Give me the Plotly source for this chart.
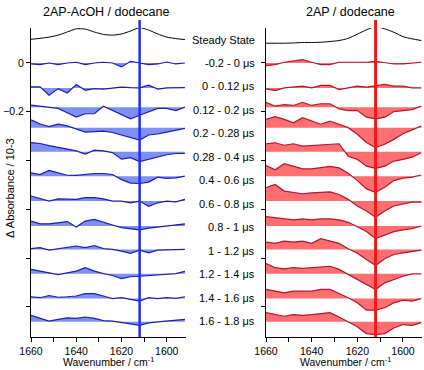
import plotly.graph_objects as go

# ---------------- data ----------------
wavenumber = [1660, 1656, 1652, 1648, 1644, 1640, 1636, 1632, 1628,
              1624, 1620, 1616, 1612, 1608, 1604, 1600, 1596, 1592]

delay_labels = ["-0.2 - 0 \u03bcs", "0 - 0.12 \u03bcs", "0.12 - 0.2 \u03bcs",
                "0.2 - 0.28 \u03bcs", "0.28 - 0.4 \u03bcs", "0.4 - 0.6 \u03bcs",
                "0.6 - 0.8 \u03bcs", "0.8 - 1 \u03bcs", "1 - 1.2 \u03bcs",
                "1.2 - 1.4 \u03bcs", "1.4 - 1.6 \u03bcs", "1.6 - 1.8 \u03bcs"]

# steady-state spectra (arbitrary scale)
acoh_steady = [0.003, 0.007, 0.012, 0.020, 0.033, 0.046, 0.045, 0.033, 0.023,
               0.020, 0.025, 0.037, 0.051, 0.041, 0.025, 0.012, 0.006, 0.002]
ap_steady = [0, 0, 0, 0.001, 0.003, 0.003, 0.004, 0.007, 0.011,
             0.020, 0.037, 0.055, 0.068, 0.059, 0.045, 0.027, 0.018, 0.011]

# transient difference spectra, 2AP-AcOH / dodecane
acoh_spectra = [
    [-0.004, -0.007, 0, -0.007, 0, 0.003, -0.007, 0, 0.003, 0, -0.016, 0.007, 0, -0.007, -0.004, 0.004, -0.004, 0],
    [0.004, 0.004, -0.030, -0.003, -0.021, 0.014, -0.010, -0.003, -0.005, 0, 0.003, 0.001, 0, 0.011, -0.005, 0, 0, 0.001],
    [0.008, 0.004, -0.003, -0.005, -0.023, -0.041, -0.027, -0.027, 0.004, -0.014, -0.030, -0.048, -0.033, -0.019, -0.005, -0.005, -0.014, 0],
    [0.032, 0.015, 0.004, 0.014, 0.007, -0.005, -0.018, -0.016, -0.014, -0.020, -0.030, -0.042, -0.051, -0.030, -0.026, -0.018, -0.012, -0.003],
    [0.038, 0.034, 0.025, 0.018, 0.008, 0.004, -0.009, 0.007, 0.004, -0.003, -0.030, -0.024, -0.040, -0.030, -0.021, -0.012, -0.007, -0.007],
    [0.014, 0.007, 0.024, 0.014, 0.004, 0.003, 0.007, 0.011, 0.011, 0.007, -0.014, -0.028, -0.030, -0.024, -0.004, -0.009, -0.007, 0],
    [0.021, 0.009, 0, 0.009, 0.009, 0.007, 0.014, 0.014, 0.009, 0, 0, -0.007, 0, -0.021, -0.007, 0, -0.003, 0.007],
    [0.020, 0.009, 0.009, 0.014, 0.018, -0.004, 0.020, 0.027, 0.014, 0.004, -0.007, -0.011, -0.016, -0.009, -0.004, 0, 0.003, 0.009],
    [0.003, 0.007, -0.003, 0.003, 0.011, 0.014, 0.007, 0.016, 0.003, 0, -0.007, -0.016, -0.003, -0.014, -0.003, -0.003, -0.003, 0],
    [0.018, 0.011, 0.004, -0.003, 0.004, 0.011, 0.025, 0.011, 0.001, -0.007, -0.020, -0.012, -0.010, -0.007, -0.007, -0.003, 0.001, 0.010],
    [0.007, 0.003, 0.012, 0.005, 0.007, 0.010, 0.020, 0.020, 0.010, -0.001, 0.003, -0.004, -0.011, 0.003, -0.001, 0.003, 0, 0.007],
    [0.027, 0.016, 0.003, 0.010, 0.016, 0.014, 0.020, 0.014, 0.005, 0.003, -0.004, -0.008, -0.014, -0.004, 0, 0.003, 0.005, 0.010],
]

# transient difference spectra, 2AP / dodecane
ap_spectra = [
    [-0.011, -0.007, 0.003, 0.010, 0.014, 0.003, -0.007, -0.007, 0.003, 0.003, 0.003, 0.003, 0.007, 0.003, -0.004, -0.004, 0, 0.003],
    [-0.004, -0.011, 0, 0.004, 0.007, 0, 0.010, 0.010, -0.007, 0, 0.007, 0.003, 0.007, 0.014, 0.007, 0.007, 0, 0],
    [0.020, 0.004, 0.010, 0.007, 0.020, 0.007, 0.014, 0.014, -0.007, -0.014, -0.014, -0.041, -0.048, -0.041, -0.018, -0.014, -0.010, 0.004],
    [0.034, 0.045, 0.034, 0.020, 0.041, 0.027, 0.014, 0.027, 0.014, 0, -0.027, -0.061, -0.082, -0.068, -0.048, -0.025, -0.009, 0.007],
    [0.033, 0.037, 0.027, 0.033, 0.023, 0.026, 0.030, 0.033, 0.033, -0.018, -0.031, -0.059, -0.068, -0.059, -0.038, -0.031, -0.022, -0.004],
    [0.044, 0.026, 0.051, 0.040, 0.030, 0.030, 0.034, 0.040, 0.034, 0.012, -0.018, -0.052, -0.066, -0.045, -0.018, -0.008, -0.004, 0.005],
    [0.055, 0.068, 0.041, 0.034, 0.030, 0.034, 0.037, 0.038, 0.027, 0.007, -0.020, -0.041, -0.066, -0.041, -0.020, -0.011, -0.004, -0.004],
    [0.038, 0.034, 0.029, 0.025, 0.029, 0.025, 0.029, 0.029, 0.025, 0.015, -0.003, -0.023, -0.052, -0.037, -0.023, -0.016, -0.011, 0],
    [0.030, 0.025, 0.034, 0.030, 0.034, 0.025, 0.044, 0.034, 0.025, 0.003, -0.016, -0.041, -0.066, -0.038, -0.021, -0.014, -0.007, -0.003],
    [0.042, 0.025, 0.020, 0.025, 0.022, 0.025, 0.029, 0.031, 0.018, -0.003, -0.023, -0.044, -0.064, -0.037, -0.023, -0.010, 0, 0],
    [0.037, 0.030, 0.023, 0.030, 0.030, 0.030, 0.037, 0.037, 0.020, 0.003, -0.018, -0.048, -0.048, -0.038, -0.018, -0.007, -0.011, -0.001],
    [0.038, 0.030, 0.023, 0.030, 0.027, 0.030, 0.034, 0.038, 0.020, 0, -0.020, -0.048, -0.052, -0.048, -0.025, -0.011, -0.014, -0.003],
]

marker_wavenumber = 1612
y_labeled_ticks = [0, -0.2]
y_unlabeled_ticks = [-0.4, -0.6, -0.8, -1.0]
y_all_ticks = [0, -0.2, -0.4, -0.6, -0.8, -1.0]

# ---------------- layout constants ----------------
W, H = 424, 370


def px(p):
    return p / W


def py(p):
    return 1 - p / H


stack_offsets = [0, -0.102, -0.181, -0.265, -0.364, -0.464, -0.566, -0.668,
                 -0.764, -0.864, -0.965, -1.061]
steady_offset = {"x": 0.094, "x2": 0.081}
FONT = "Arial, Liberation Sans, sans-serif"

panels = [
    dict(xa="x", ya="y", steady=acoh_steady, spectra=acoh_spectra,
         line="#1c1cb0", fill="#7d90f6", vline="#1e2ef0", vw=2.5),
    dict(xa="x2", ya="y2", steady=ap_steady, spectra=ap_spectra,
         line="#b81428", fill="#ff6e70", vline="#f01818", vw=3),
]

fig = go.Figure()
for p in panels:
    off0 = steady_offset[p["xa"]]
    fig.add_trace(go.Scatter(
        x=wavenumber, y=[v + off0 for v in p["steady"]], xaxis=p["xa"], yaxis=p["ya"],
        mode="lines", line=dict(color="black", width=1, shape="spline", smoothing=0.6),
        showlegend=False, hoverinfo="skip"))
    for spec, off in zip(p["spectra"], stack_offsets):
        fig.add_trace(go.Scatter(
            x=wavenumber, y=[off] * len(wavenumber), xaxis=p["xa"], yaxis=p["ya"],
            mode="lines", line=dict(width=0), showlegend=False, hoverinfo="skip"))
        fig.add_trace(go.Scatter(
            x=wavenumber, y=[v + off for v in spec], xaxis=p["xa"], yaxis=p["ya"],
            mode="lines", line=dict(color=p["line"], width=1.2),
            fill="tonexty", fillcolor=p["fill"], showlegend=False, hoverinfo="skip"))
    fig.add_shape(type="line", xref=p["xa"], yref="paper",
                  x0=marker_wavenumber, x1=marker_wavenumber,
                  y0=py(337), y1=py(20),
                  line=dict(color=p["vline"], width=p["vw"]), layer="above")

yrange = [-1.123, 0.1434]
ydom = [py(337), py(28)]
axis_common = dict(showgrid=False, zeroline=False, showline=True, linecolor="black",
                   linewidth=1, ticks="outside", ticklen=4, tickcolor="black",
                   tickwidth=1, tickfont=dict(family=FONT, size=10.5, color="black"))
xminor = dict(ticks="outside", dtick=10, tick0=1600, ticklen=4, tickcolor="black",
              tickwidth=1, showgrid=False)

fig.update_layout(
    width=W, height=H, margin=dict(l=0, r=0, t=0, b=0, autoexpand=False),
    paper_bgcolor="white", plot_bgcolor="white",
    font=dict(family=FONT, color="black"),
    xaxis=dict(domain=[px(31), px(186)], range=[1660, 1591.5], anchor="y",
               tickmode="linear", tick0=1600, dtick=20, minor=xminor, **axis_common),
    xaxis2=dict(domain=[px(266), px(422.4)], range=[1660, 1591.5], anchor="y2",
                tickmode="linear", tick0=1600, dtick=20, minor=xminor, **axis_common),
    yaxis=dict(domain=ydom, range=yrange, anchor="x",
               tickmode="array", tickvals=y_labeled_ticks,
               minor=dict(tickmode="array", tickvals=y_unlabeled_ticks, ticks="outside",
                          ticklen=4, tickcolor="black", tickwidth=1, showgrid=False),
               **axis_common),
    yaxis2=dict(domain=ydom, range=yrange, anchor="x2",
                tickmode="array", tickvals=y_all_ticks, showticklabels=False,
                **axis_common),
)

ann = []
# panel titles
for text, cx in (("2AP-AcOH / dodecane", 106), ("2AP / dodecane", 350)):
    ann.append(dict(text=text, x=px(cx), y=py(12), xref="paper", yref="paper",
                    showarrow=False, xanchor="center", yanchor="middle",
                    font=dict(family=FONT, size=12.5, color="black")))
# x axis titles
for cx in (108, 345):
    ann.append(dict(text="Wavenumber / cm<sup>-1</sup>", x=px(cx), y=py(361),
                    xref="paper", yref="paper", showarrow=False, xanchor="center",
                    yanchor="middle", font=dict(family=FONT, size=10.5, color="black")))
# y axis title
ann.append(dict(text="\u0394 Absorbance / 10-3", x=px(10), y=py(188),
                xref="paper", yref="paper", showarrow=False, textangle=-90,
                xanchor="center", yanchor="middle",
                font=dict(family=FONT, size=11, color="black")))
# trace labels
all_labels = ["Steady State"] + delay_labels
for i, lab in enumerate(all_labels):
    ypx = 40 if i == 0 else 63 + 23.45 * (i - 1)
    ann.append(dict(text=lab, x=px(257), y=py(ypx), xref="paper", yref="paper",
                    showarrow=False, xanchor="right", yanchor="middle",
                    font=dict(family=FONT, size=11, color="black")))
fig.update_layout(annotations=ann)

# remove the page's default body margin so the figure fills the window exactly
fig.write_html("out.html",
               config={"displayModeBar": False, "staticPlot": True},
               post_script="document.body.style.margin='0';document.body.style.overflow='hidden';")
